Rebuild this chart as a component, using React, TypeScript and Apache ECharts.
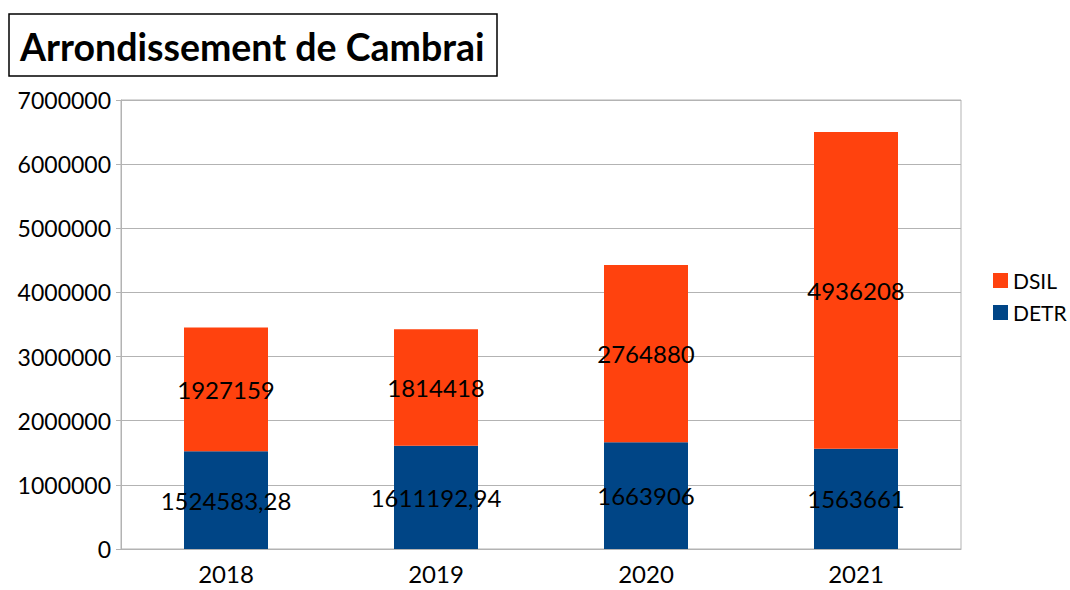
import React, { useEffect, useRef } from "react";
import * as echarts from "echarts";

const categories = ["2018", "2019", "2020", "2021"];
const detr = [1524583.28, 1611192.94, 1663906, 1563661];
const dsil = [1927159, 1814418, 2764880, 4936208];

const FONT = "Lato";

export default function App() {
  const ref = useRef<HTMLDivElement>(null);
  useEffect(() => {
    const chart = echarts.init(ref.current!, null, { renderer: "svg" });
    const labelOpt = {
      show: true,
      position: "inside",
      color: "#000",
      fontFamily: FONT,
      fontSize: 24,
      formatter: (p: any) => String(p.value).replace(".", ","),
    };
    chart.setOption({
      animation: false,
      backgroundColor: "#fff",
      title: {
        text: "Arrondissement de Cambrai",
        left: 9,
        top: 14,
        padding: [13, 13, 11, 11],
        borderColor: "#000",
        borderWidth: 1.5,
        textStyle: { fontFamily: FONT, fontWeight: "bold", fontSize: 37.5, color: "#000" },
      },
      legend: {
        data: ["DSIL", "DETR"],
        orient: "vertical",
        left: 988,
        top: 265,
        icon: "rect",
        itemWidth: 15,
        itemHeight: 15,
        itemGap: 11,
        textStyle: { fontFamily: FONT, fontSize: 21, color: "#000" },
      },
      grid: {
        left: 121,
        right: 109,
        top: 100,
        bottom: 41,
        show: true,
        borderColor: "#b3b3b3",
        borderWidth: 1,
      },
      xAxis: {
        type: "category",
        data: categories,
        axisLine: { lineStyle: { color: "#b3b3b3" } },
        axisTick: { show: false },
        axisLabel: { fontFamily: FONT, fontSize: 24, color: "#000", margin: 12 },
      },
      yAxis: {
        type: "value",
        min: 0,
        max: 7000000,
        interval: 1000000,
        axisLine: { show: true, lineStyle: { color: "#b3b3b3" } },
        axisTick: { show: true, length: 5, lineStyle: { color: "#b3b3b3" } },
        splitLine: { lineStyle: { color: "#b3b3b3" } },
        axisLabel: {
          fontFamily: FONT,
          fontSize: 23,
          color: "#000",
          margin: 10,
          formatter: (v: number) => String(v),
        },
      },
      series: [
        {
          name: "DETR",
          type: "bar",
          stack: "a",
          data: detr,
          barWidth: "40%",
          itemStyle: { color: "#004586" },
          label: labelOpt,
        },
        {
          name: "DSIL",
          type: "bar",
          stack: "a",
          data: dsil,
          barWidth: "40%",
          itemStyle: { color: "#ff420e" },
          label: labelOpt,
        },
      ],
    });
    return () => chart.dispose();
  }, []);
  return (
    <div
      ref={ref}
      style={{ position: "fixed", left: 0, top: 0, width: 1070, height: 590 }}
    />
  );
}
